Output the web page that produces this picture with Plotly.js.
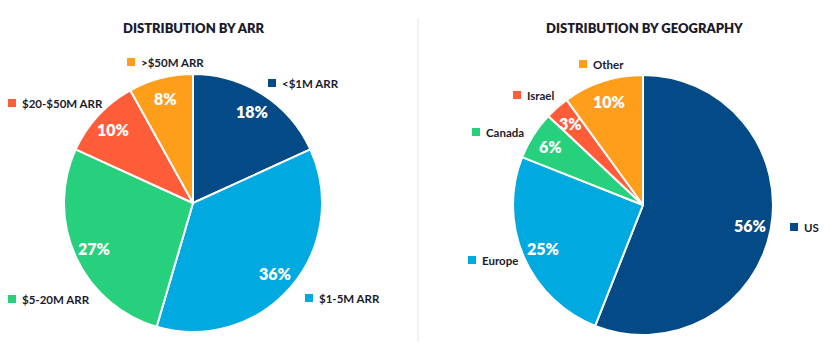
<!DOCTYPE html>
<html>
<head>
<meta charset="utf-8">
<script src="https://cdn.plot.ly/plotly-3.0.1.min.js"></script>
<style>html,body{margin:0;padding:0;background:#fff;}#chart{width:836px;height:352px;}</style>
</head>
<body>
<div id="chart"></div>
<script>
// ---- data ----
const arrLabels = ["<$1M ARR", "$1-5M ARR", "$5-20M ARR", "$20-$50M ARR", ">$50M ARR"];
const arrValues = [18, 36, 27, 10, 8];
const geoLabels = ["US", "Europe", "Canada", "Israel", "Other"];
const geoValues = [56, 25, 6, 3, 10];
const titles = ["DISTRIBUTION BY ARR", "DISTRIBUTION BY GEOGRAPHY"];

// ---- styles ----
const sliceColors = ["#034a86", "#00a9e0", "#26d07c", "#ff5c39", "#ff9e1b"];
const W = 836, H = 352;
const FONT = "Lato, 'DejaVu Sans', sans-serif";
const dark = "#1b1b2b";

function pieTrace(labels, values, dom) {
  return {
    type: "pie", labels: labels, values: values, sort: false,
    direction: "clockwise", rotation: 0, hole: 0,
    marker: { colors: sliceColors, line: { color: "#ffffff", width: 2 } },
    textinfo: "none",
    hoverinfo: "label+value", showlegend: false, domain: dom
  };
}
function px(x) { return x / W; }
function py(y) { return 1 - y / H; }

// pie geometry (pixels): center & radius
const pies = [{ cx: 193, cy: 203, r: 129 }, { cx: 643, cy: 205, r: 130 }];
function dom(p) {
  return { x: [px(p.cx - p.r), px(p.cx + p.r)], y: [py(p.cy + p.r), py(p.cy - p.r)] };
}

// label placements (pixels): square left x, centre y
const arrLabelPos = [[268, 83], [305, 298], [8, 299], [8, 103], [127, 62]];
const geoLabelPos = [[790, 227], [468, 260], [472, 132], [513, 95], [579, 64]];

const shapes = [], annotations = [];
function addLabels(labels, pos) {
  labels.forEach((lab, i) => {
    const [x, y] = pos[i];
    shapes.push({ type: "rect", xref: "paper", yref: "paper",
      x0: px(x), x1: px(x + 8), y0: py(y + 4), y1: py(y - 4),
      fillcolor: sliceColors[i], line: { width: 0 } });
    annotations.push({ xref: "paper", yref: "paper", x: px(x + 12), y: py(y),
      xanchor: "left", yanchor: "middle", showarrow: false, text: lab,
      font: { family: FONT, size: 11.5, color: dark, weight: 700 } });
  });
}
addLabels(arrLabels, arrLabelPos);
addLabels(geoLabels, geoLabelPos);

// percentage labels placed at the middle angle of each slice, near the rim
function addPercents(values, p) {
  const total = values.reduce((a, b) => a + b, 0);
  let cum = 0;
  values.forEach(v => {
    const mid = (cum + v / 2) / total * 2 * Math.PI;
    cum += v;
    const rr = 0.84 * p.r;
    const x = p.cx + rr * Math.sin(mid), y = p.cy - rr * Math.cos(mid);
    annotations.push({ xref: "paper", yref: "paper", x: px(x), y: py(y),
      xanchor: "center", yanchor: "middle", showarrow: false, text: v + "%",
      font: { family: FONT, size: 16, color: "#ffffff", weight: 800 } });
  });
}
addPercents(arrValues, pies[0]);
addPercents(geoValues, pies[1]);

[193.5, 644].forEach((cx, i) => {
  annotations.push({ xref: "paper", yref: "paper", x: px(cx), y: py(28),
    xanchor: "center", yanchor: "middle", showarrow: false, text: titles[i],
    font: { family: FONT, size: 13, color: dark, weight: 800 } });
});
shapes.push({ type: "line", xref: "paper", yref: "paper",
  x0: px(418), x1: px(418), y0: py(18), y1: py(342),
  line: { color: "#e6e6e6", width: 1 } });

const layout = {
  width: W, height: H, margin: { l: 0, r: 0, t: 0, b: 0 },
  paper_bgcolor: "#ffffff", plot_bgcolor: "#ffffff",
  shapes: shapes, annotations: annotations, showlegend: false
};
Plotly.newPlot("chart", [pieTrace(arrLabels, arrValues, dom(pies[0])), pieTrace(geoLabels, geoValues, dom(pies[1]))], layout, { displayModeBar: false, staticPlot: true });
</script>
</body>
</html>
